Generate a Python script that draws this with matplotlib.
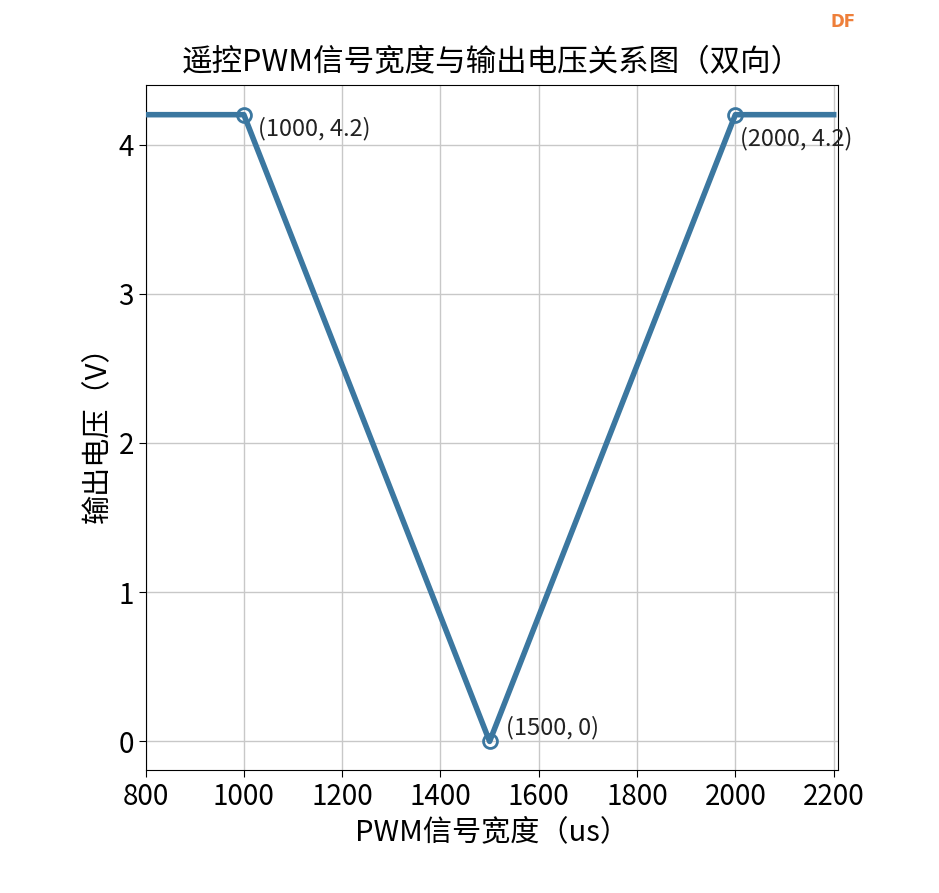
import matplotlib.pyplot as plt

plt.rcParams['font.family'] = ['Noto Sans CJK SC', 'DejaVu Sans']

# PWM width (us) vs output voltage (V)
pwm = [800, 1000, 1500, 2000, 2200]
volt = [4.2, 4.2, 0, 4.2, 4.2]

# key points marked with open circles
key_x = [1000, 1500, 2000]
key_y = [4.2, 0, 4.2]
key_labels = ['(1000, 4.2)', '(1500, 0)', '(2000, 4.2)']
label_offsets = [(10, -10), (12, 10), (3, -17)]

line_color = '#3b77a0'

fig = plt.figure(figsize=(9.39, 8.93), dpi=100)
ax = fig.add_axes([0.155, 0.138, 0.737, 0.767])

ax.plot(pwm, volt, color=line_color, linewidth=4, zorder=3)
ax.plot(key_x, key_y, 'o', markersize=10, markerfacecolor='none',
        markeredgecolor=line_color, markeredgewidth=2, zorder=4)

for x, y, txt, off in zip(key_x, key_y, key_labels, label_offsets):
    ax.annotate(txt, (x, y), xytext=off, textcoords='offset points',
                fontsize=17, va='center', ha='left', color='#222222')

ax.set_xlim(800, 2208)
ax.set_ylim(-0.19, 4.40)
ax.set_xticks([800, 1000, 1200, 1400, 1600, 1800, 2000, 2200])
ax.set_yticks([0, 1, 2, 3, 4])
ax.tick_params(labelsize=20, length=5)
ax.grid(True, color='#c8c8c8', linewidth=1)

ax.set_title('遥控PWM信号宽度与输出电压关系图（双向）', fontsize=22, pad=10)
ax.set_xlabel('PWM信号宽度（us）', fontsize=21)
ax.set_ylabel('输出电压（V）', fontsize=21)

fig.text(0.898, 0.975, 'DF', color='#ee7f3a', fontsize=12, fontweight='bold',
         ha='center', va='center', family=['DejaVu Sans'])

fig.savefig('out.png', dpi=100, facecolor='white')
